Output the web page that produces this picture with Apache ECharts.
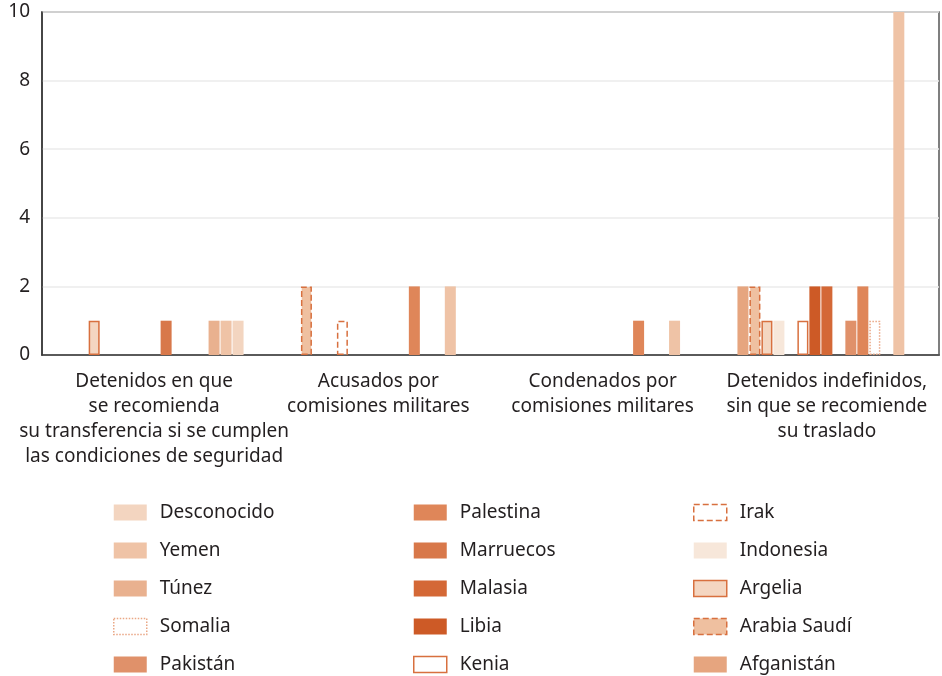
<!DOCTYPE html>
<html>
<head>
<meta charset="utf-8">
<script src="https://cdn.jsdelivr.net/npm/echarts@6/dist/echarts.min.js"></script>
<style>
  html, body { margin: 0; padding: 0; background: #fff; }
  #chart { width: 942px; height: 676px; }
</style>
</head>
<body>
<div id="chart"></div>
<script>
const categories = [
  "Detenidos en que\nse recomienda\nsu transferencia si se cumplen\nlas condiciones de seguridad",
  "Acusados por\ncomisiones militares",
  "Condenados por\ncomisiones militares",
  "Detenidos indefinidos,\nsin que se recomiende\nsu traslado",
];

// values per category, series in alphabetical order as drawn
const afganistan = [0, 0, 0, 2];
const arabiaSaudi = [0, 2, 0, 2];
const argelia = [1, 0, 0, 1];
const indonesia = [0, 0, 0, 1];
const irak = [0, 1, 0, 0];
const kenia = [0, 0, 0, 1];
const libia = [0, 0, 0, 2];
const malasia = [0, 0, 0, 2];
const marruecos = [1, 0, 0, 0];
const pakistan = [0, 0, 0, 1];
const palestina = [0, 2, 1, 2];
const somalia = [0, 0, 0, 1];
const tunez = [1, 0, 0, 0];
const yemen = [1, 2, 1, 10];
const desconocido = [1, 0, 0, 0];

const yTicks = [0, 2, 4, 6, 8, 10];

const legendCols = [
  ["Desconocido", "Yemen", "Túnez", "Somalia", "Pakistán"],
  ["Palestina", "Marruecos", "Malasia", "Libia", "Kenia"],
  ["Irak", "Indonesia", "Argelia", "Arabia Saudí", "Afganistán"],
];

const font = "Noto Sans";
const textColor = "#231f20";
const edge = "#d8703f";

const styles = {
  "Afganistán": { color: "#e6a57f" },
  "Arabia Saudí": { color: "#efc0a0", borderColor: edge, borderWidth: 1.5, borderType: "dashed" },
  "Argelia": { color: "#f4d6c1", borderColor: edge, borderWidth: 1.5, borderType: "solid" },
  "Indonesia": { color: "#f7e7da" },
  "Irak": { color: "#ffffff", borderColor: edge, borderWidth: 1.5, borderType: "dashed" },
  "Kenia": { color: "#ffffff", borderColor: edge, borderWidth: 1.5, borderType: "solid" },
  "Libia": { color: "#cd5a26" },
  "Malasia": { color: "#d46836" },
  "Marruecos": { color: "#d8784a" },
  "Pakistán": { color: "#e0916a" },
  "Palestina": { color: "#df8659" },
  "Somalia": { color: "#ffffff", borderColor: "#eaa785", borderWidth: 1.5, borderType: "dotted" },
  "Túnez": { color: "#e9b18f" },
  "Yemen": { color: "#efc3a6" },
  "Desconocido": { color: "#f3d5c0" },
};

const bar = (name, data) => ({
  name,
  type: "bar",
  data: data.map((v) => (v === 0 ? null : v)),
  barWidth: 11,
  barGap: "9%",
  itemStyle: Object.assign({ borderWidth: 0 }, styles[name]),
});

const series = [
  bar("Afganistán", afganistan),
  bar("Arabia Saudí", arabiaSaudi),
  bar("Argelia", argelia),
  bar("Indonesia", indonesia),
  bar("Irak", irak),
  bar("Kenia", kenia),
  bar("Libia", libia),
  bar("Malasia", malasia),
  bar("Marruecos", marruecos),
  bar("Pakistán", pakistan),
  bar("Palestina", palestina),
  bar("Somalia", somalia),
  bar("Túnez", tunez),
  bar("Yemen", yemen),
  bar("Desconocido", desconocido),
];

const legendLeft = [113, 413, 693];

const chart = echarts.init(document.getElementById("chart"));
chart.setOption({
  animation: false,
  textStyle: { fontFamily: font },
  grid: {
    left: 42,
    right: 3,
    top: 12,
    bottom: 321,
    show: true,
    borderColor: "#555",
    borderWidth: 1.5,
  },
  legend: legendCols.map((names, i) => ({
    data: names.map((n) => ({
      name: n,
      itemStyle: Object.assign({ borderWidth: 0 }, styles[n]),
    })),
    orient: "vertical",
    left: legendLeft[i],
    top: 503,
    height: 190,
    icon: "rect",
    itemWidth: 33,
    itemHeight: 16,
    itemGap: 19,
    padding: 0,
    selectedMode: false,
    textStyle: {
      fontSize: 19,
      color: textColor,
      fontFamily: font,
      padding: [0, 0, 0, 8],
    },
  })),
  xAxis: {
    type: "category",
    data: categories,
    axisLine: { lineStyle: { color: "#333", width: 1.5 } },
    axisTick: { inside: true, length: 8, lineStyle: { color: "#333", width: 1.5 } },
    axisLabel: {
      margin: 14,
      fontSize: 19,
      lineHeight: 25,
      color: textColor,
      fontFamily: font,
      interval: 0,
    },
  },
  yAxis: {
    type: "value",
    min: yTicks[0],
    max: yTicks[yTicks.length - 1],
    interval: 2,
    axisLine: { show: true, lineStyle: { color: "#333", width: 1.5 } },
    axisTick: { show: false },
    splitLine: { lineStyle: { color: "#ebebeb", width: 1.5 } },
    axisLabel: {
      margin: 12,
      fontSize: 19,
      color: textColor,
      fontFamily: font,
    },
  },
  series,
});
</script>
</body>
</html>
